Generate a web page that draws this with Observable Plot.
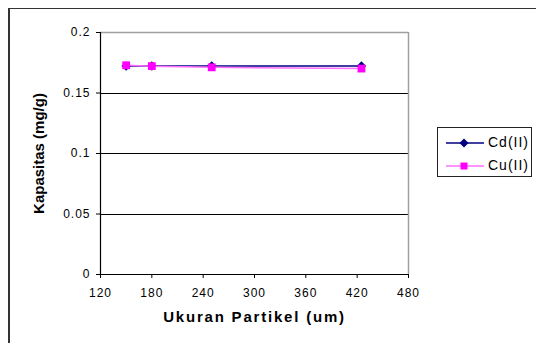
<!DOCTYPE html>
<html><head><meta charset="utf-8">
<script src="https://cdn.jsdelivr.net/npm/d3@7"></script>
<script src="https://cdn.jsdelivr.net/npm/@observablehq/plot@0.6"></script>
<style>
html,body{margin:0;padding:0;background:#fff;overflow:hidden;width:536px;height:343px}
#wrap{position:relative;width:536px;height:343px;font-family:"Liberation Sans",Arial,sans-serif;overflow:hidden}
#frame{position:absolute;left:8px;top:8px;width:600px;height:400px;border-left:2px solid #333;border-top:1.5px solid #333}
#chart{position:absolute;left:0;top:0}
#legend{position:absolute;left:437px;top:127px;width:95px;height:50px;border:1px solid #222;box-sizing:border-box;background:#fff}
.item{position:absolute;left:0;height:16px;width:95px}
.item svg{position:absolute;left:7px;top:0}
.item span{position:absolute;left:50px;top:-1px;font-size:14px;letter-spacing:1px;line-height:16px;color:#000}
g[aria-label="x-axis tick label"] text, g[aria-label="y-axis tick label"] text{letter-spacing:1px}
</style>
</head><body>
<div id="wrap"><div id="frame"></div><div id="chart"></div><div id="legend"></div></div>
<script>
const sizes = [150, 180, 250, 425];
const cdValues = [0.1724, 0.1724, 0.1724, 0.1724];
const cuValues = [0.1729, 0.1722, 0.1712, 0.1702];
const seriesNames = ["Cd(II)", "Cu(II)"];
const lineColors = ["#000080", "#ff70ff"];
const markerColors = ["#000080", "#ff00ff"];
const xTicks = [120, 180, 240, 300, 360, 420, 480];
const yTicks = [0, 0.05, 0.1, 0.15, 0.2];
const yTickLabels = ["0", "0.05", "0.1", "0.15", "0.2"];
const xTitle = "Ukuran Partikel (um)";
const yTitle = "Kapasitas (mg/g)";

const diamond = {draw(ctx, size){const h = Math.sqrt(size/2); ctx.moveTo(0,-h); ctx.lineTo(h,0); ctx.lineTo(0,h); ctx.lineTo(-h,0); ctx.closePath();}};
const cdRows = sizes.map((s,i)=>({x:s, y:cdValues[i]}));
const cuRows = sizes.map((s,i)=>({x:s, y:cuValues[i]}));

const chart = Plot.plot({
  width: 536, height: 343,
  marginLeft: 100, marginRight: 128, marginTop: 32, marginBottom: 69,
  style: {fontFamily: '"Liberation Sans", Arial, sans-serif', fontSize: "12px", background: "transparent", overflow: "visible", color: "#000"},
  x: {domain: [120, 480]},
  y: {domain: [0, 0.2]},
  marks: [
    Plot.ruleY(yTicks.filter(d => d > 0 && d < 0.2), {stroke: "#000", strokeWidth: 1, shapeRendering: "crispEdges"}),
    Plot.ruleY([0.2], {stroke: "#a0a0a0", strokeWidth: 1.5}),
    Plot.ruleX([480], {stroke: "#a0a0a0", strokeWidth: 1.5}),
    Plot.axisX({ticks: xTicks, tickSize: 4, tickPadding: 10, label: null, tickFormat: d => String(d), stroke: "#000", strokeOpacity: 1}),
    Plot.axisY({ticks: yTicks, tickSize: 4, tickPadding: 6, label: null, tickFormat: d => yTickLabels[yTicks.indexOf(d)], stroke: "#000", strokeOpacity: 1}),
    Plot.ruleX([120], {stroke: "#000", strokeWidth: 1.2}),
    Plot.ruleY([0], {stroke: "#000", strokeWidth: 1.2}),
    Plot.line(cdRows, {x: "x", y: "y", stroke: lineColors[0], strokeWidth: 1.5}),
    Plot.dot(cdRows, {x: "x", y: "y", fill: markerColors[0], symbol: diamond, r: 3.8}),
    Plot.line(cuRows, {x: "x", y: "y", stroke: lineColors[1], strokeWidth: 1.5}),
    Plot.dot(cuRows, {x: "x", y: "y", fill: markerColors[1], symbol: "square", r: 4.4}),
    Plot.text([xTitle], {frameAnchor: "bottom", lineAnchor: "middle", dy: 43, fontWeight: "bold", fontSize: 15, fill: "#000"}),
    Plot.text([yTitle], {frameAnchor: "left", textAnchor: "middle", lineAnchor: "middle", rotate: -90, dx: -61, fontWeight: "bold", fontSize: 15, fill: "#000"})
  ]
});
document.getElementById("chart").appendChild(chart);
const titles = chart.querySelectorAll('g[aria-label="text"] text');
if (titles[0]) titles[0].style.letterSpacing = "1.8px";

const legend = document.getElementById("legend");
const tops = [7, 30];
seriesNames.forEach((name, i) => {
  const item = document.createElement("div");
  item.className = "item";
  item.style.top = tops[i] + "px";
  const marker = i === 0
    ? `<path d="M19,3.5 L23.5,8 L19,12.5 L14.5,8 Z" fill="${markerColors[i]}"/>`
    : `<rect x="15.5" y="4.5" width="7" height="7" fill="${markerColors[i]}"/>`;
  item.innerHTML = `<svg width="40" height="16"><line x1="1" x2="39" y1="8" y2="8" stroke="${lineColors[i]}" stroke-width="1.5"/>${marker}</svg><span>${name}</span>`;
  legend.appendChild(item);
});
</script>
</body></html>
